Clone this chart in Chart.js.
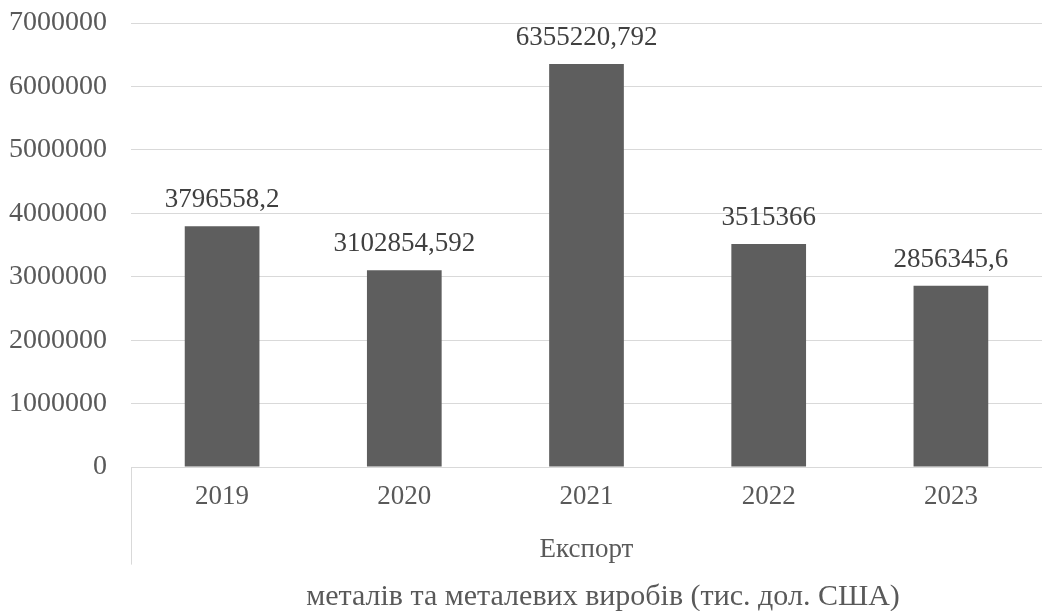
<!DOCTYPE html>
<html>
<head>
<meta charset="utf-8">
<script src="https://cdn.jsdelivr.net/npm/chart.js@4/dist/chart.umd.min.js"></script>
<style>
  html, body { margin: 0; padding: 0; background: #fff; }
  #wrap { width: 1042px; height: 611px; }
</style>
</head>
<body>
<div id="wrap"><canvas id="exportChart"></canvas></div>
<script>
// chart data
const years = ['2019', '2020', '2021', '2022', '2023'];
const exportValues = [3796558.2, 3102854.592, 6355220.792, 3515366, 2856345.6];
const valueLabels = ['3796558,2', '3102854,592', '6355220,792', '3515366', '2856345,6'];
const yTicks = [0, 1000000, 2000000, 3000000, 4000000, 5000000, 6000000, 7000000];
const groupLabel = 'Експорт';
const bottomTitle = 'металів та металевих виробів (тис. дол. США)';

const serif = "'Liberation Serif', 'Times New Roman', serif";

// labels above bars
const barLabels = {
    id: 'barLabels',
    afterDatasetsDraw(chart) {
        const ctx = chart.ctx;
        const meta = chart.getDatasetMeta(0);
        ctx.save();
        ctx.font = '27px ' + serif;
        ctx.fillStyle = '#404040';
        ctx.textAlign = 'center';
        ctx.textBaseline = 'middle';
        meta.data.forEach((bar, i) => {
            ctx.fillText(valueLabels[i], bar.x, bar.y - 26);
        });
        ctx.restore();
    }
};

// separator line of the category axis and the bottom title
const axisExtras = {
    id: 'axisExtras',
    afterDraw(chart) {
        const x = chart.scales.x;
        const ctx = chart.ctx;
        ctx.save();
        ctx.strokeStyle = '#d9d9d9';
        ctx.lineWidth = 1;
        ctx.beginPath();
        ctx.moveTo(x.left + 0.5, x.top);
        ctx.lineTo(x.left + 0.5, x.bottom - 10);
        ctx.stroke();

        ctx.font = '30px ' + serif;
        ctx.fillStyle = '#595959';
        ctx.textAlign = 'center';
        ctx.textBaseline = 'middle';
        ctx.fillText(bottomTitle, 603, x.bottom + 23);
        ctx.restore();
    }
};

new Chart(document.getElementById('exportChart'), {
    type: 'bar',
    data: {
        labels: years,
        datasets: [{
            label: groupLabel,
            data: exportValues,
            backgroundColor: '#5e5e5e',
            categoryPercentage: 1,
            barPercentage: 0.41
        }]
    },
    options: {
        responsive: true,
        maintainAspectRatio: false,
        animation: false,
        layout: { padding: { top: 23, left: 0, right: 0, bottom: 36.4 } },
        plugins: {
            legend: { display: false },
            tooltip: { enabled: false }
        },
        scales: {
            y: {
                min: 0,
                max: 7000000,
                afterBuildTicks(scale) {
                    scale.ticks = yTicks.map(v => ({ value: v }));
                },
                afterFit(scale) {
                    scale.width = 131;
                    scale.paddingTop = 0;
                    scale.paddingBottom = 0;
                },
                border: { display: false },
                grid: { color: '#d9d9d9', lineWidth: 1, drawTicks: false },
                ticks: {
                    color: '#595959',
                    font: { family: serif, size: 28 },
                    padding: 24,
                    callback: v => String(v)
                }
            },
            x: {
                afterFit(scale) { scale.height = 107.6; },
                border: { display: true, color: '#d9d9d9' },
                grid: { display: false, drawTicks: false },
                ticks: {
                    color: '#595959',
                    font: { family: serif, size: 27 },
                    padding: 14
                },
                title: {
                    display: true,
                    text: groupLabel,
                    color: '#595959',
                    font: { family: serif, size: 27 },
                    padding: { top: 0, bottom: 8 }
                }
            }
        }
    },
    plugins: [barLabels, axisExtras]
});
</script>
</body>
</html>
